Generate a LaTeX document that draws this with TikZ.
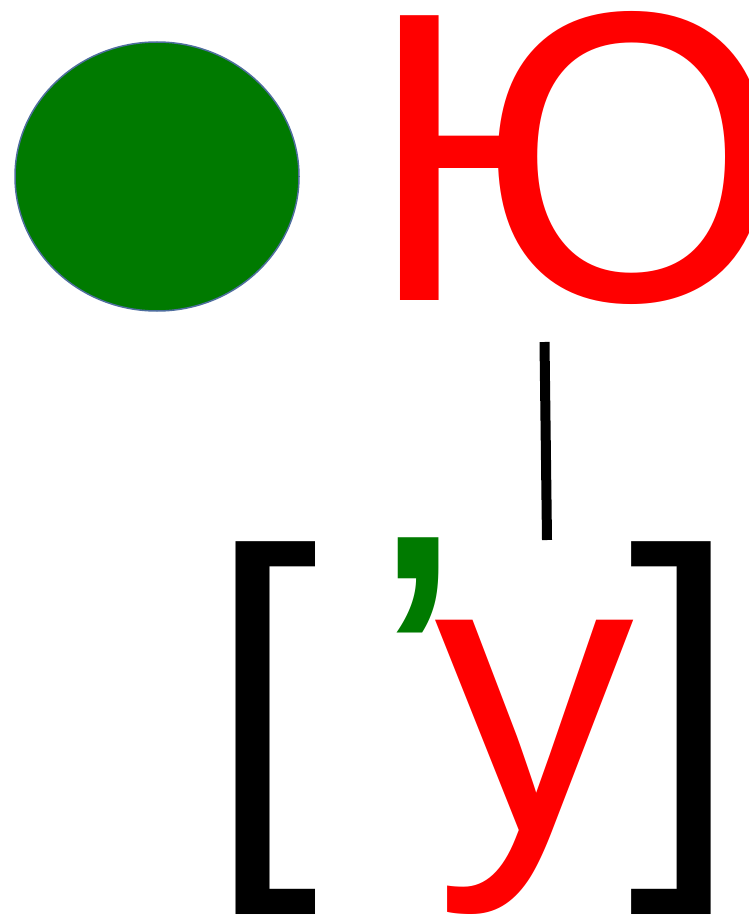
\documentclass[tikz,border=0pt]{standalone}
\usepackage{fontspec}
\usetikzlibrary{shapes.geometric}
\setmainfont{Liberation Sans}
\definecolor{dotgreen}{RGB}{0,122,0}
\definecolor{edgeblue}{RGB}{79,110,158}
\definecolor{letterred}{RGB}{255,0,0}
\begin{document}
\begin{tikzpicture}[x=1pt,y=-1pt,
  glyph/.style={inner sep=0pt,outer sep=0pt,anchor=base west},
  big/.style={font=\fontsize{414}{414}\selectfont},
  second/.style={font=\fontsize{400}{400}\selectfont},
  apostrophesize/.style={font=\fontsize{427}{427}\selectfont}]
\useasboundingbox (0,0) rectangle (748,915);
\clip (0,0) rectangle (748,915);
\node[ellipse,draw=edgeblue,line width=1.5pt,fill=dotgreen,minimum width=284pt,minimum height=269pt,inner sep=0pt] (dot) at (157,176.5) {};
\node[glyph,big,text=letterred] (yu) at (366,300) {Ю};
\coordinate (lt) at (544.5,342);
\coordinate (lb) at (547,540);
\draw[line width=10pt] (lt) -- (lb);
\node[glyph,second] (lb1) at (207,831) {[};
\node[glyph,apostrophesize,text=dotgreen] (apo) at (370,831) {’};
\node[glyph,second,text=letterred] (u) at (434,831) {у};
\node[glyph,second] (rb) at (628,831) {]};
\end{tikzpicture}
\end{document}
